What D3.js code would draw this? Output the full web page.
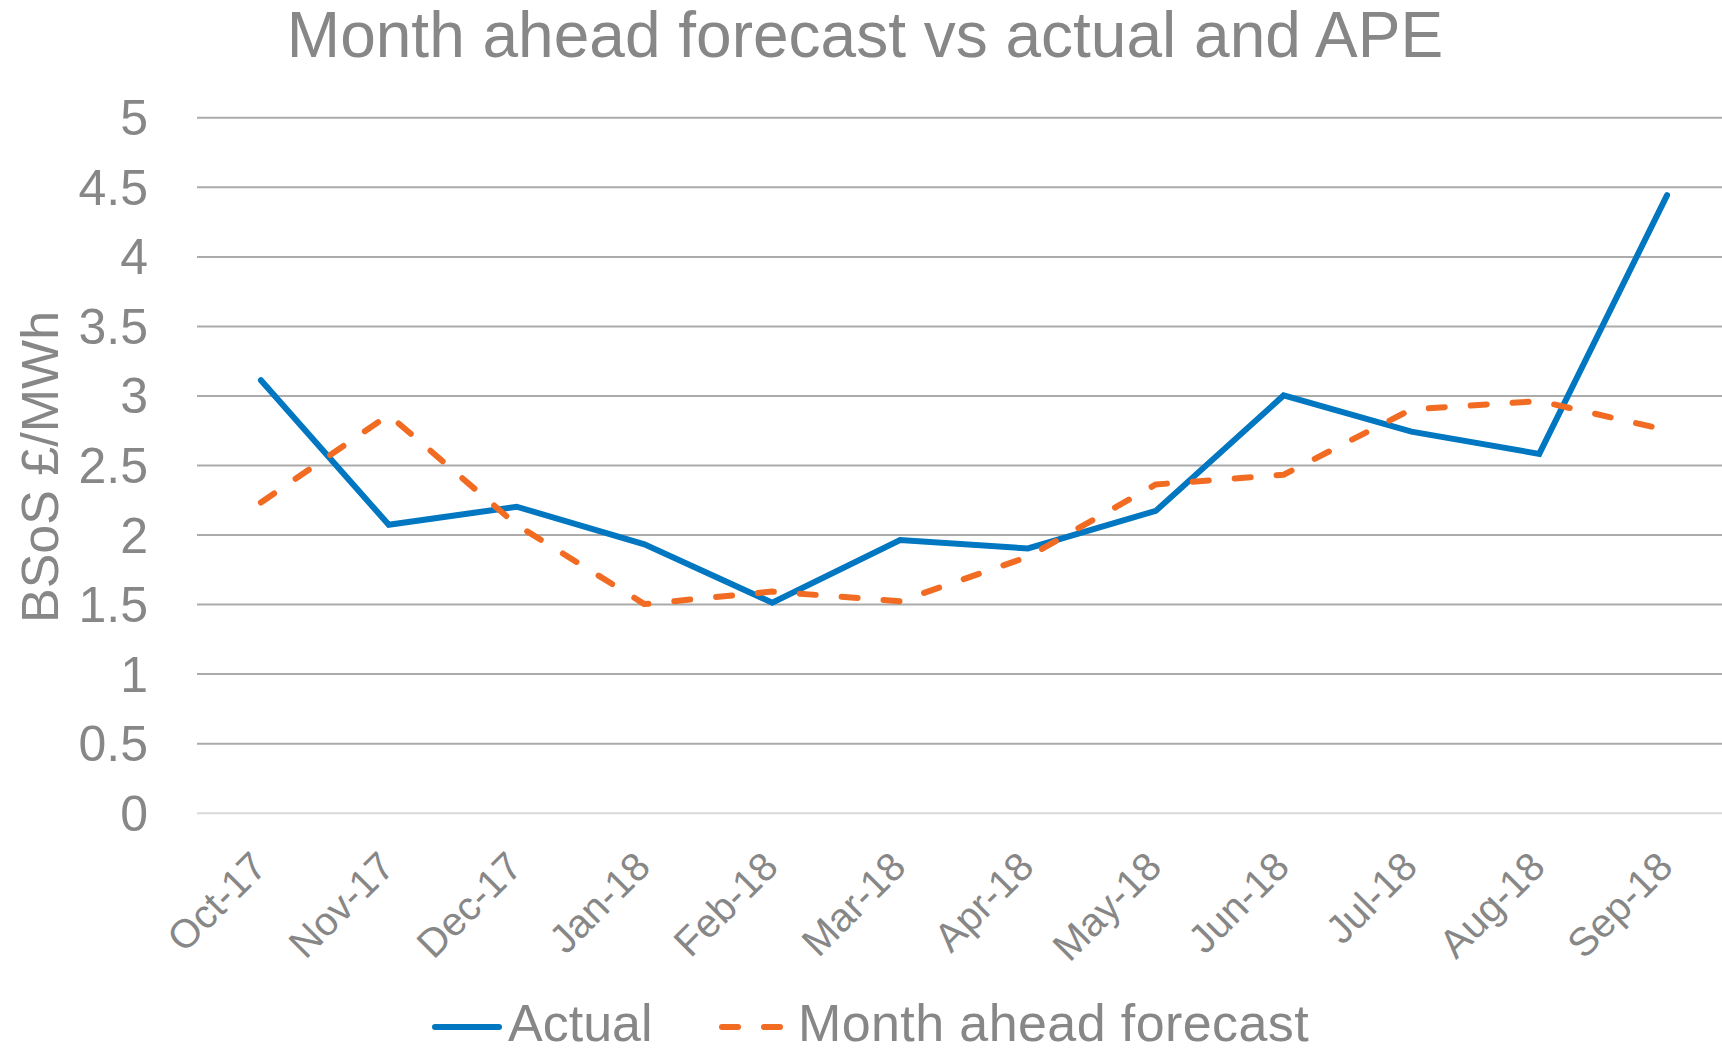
<!DOCTYPE html>
<html>
<head>
<meta charset="utf-8">
<script src="https://cdn.jsdelivr.net/npm/d3@7"></script>
<style>
	body { margin: 0; background: #fff; }
	svg { display: block; font-family: "Liberation Sans", Arial, sans-serif; }
	.txt { fill: #878787; }
</style>
</head>
<body>
<svg id="chart" width="1722" height="1052"></svg>
<script>
"use strict";

// chart data
var months = ["Oct-17", "Nov-17", "Dec-17", "Jan-18", "Feb-18", "Mar-18",
	"Apr-18", "May-18", "Jun-18", "Jul-18", "Aug-18", "Sep-18"];
var actual = [3.11, 2.07, 2.20, 1.93, 1.51, 1.96, 1.90, 2.17, 3.00, 2.74, 2.58, 4.44];
var forecast = [2.23, 2.86, 2.07, 1.50, 1.59, 1.52, 1.84, 2.36, 2.43, 2.90, 2.96, 2.75];
var yTicks = [0, 0.5, 1, 1.5, 2, 2.5, 3, 3.5, 4, 4.5, 5];
var yTickLabels = ["0", "0.5", "1", "1.5", "2", "2.5", "3", "3.5", "4", "4.5", "5"];

var svg = d3.select('#chart');

var plotLeft = 197, plotRight = 1731, plotTop = 117.3, plotBottom = 812.7;

var x = d3.scalePoint().domain(months).range([plotLeft, plotRight]).padding(0.5);
var y = d3.scaleLinear().domain([0, 5]).range([plotBottom, plotTop]);

// title
svg.append('text').attr('class', 'txt').attr('x', 865).attr('y', 57)
	.style('font-size', '64px').style('text-anchor', 'middle')
	.text('Month ahead forecast vs actual and APE');

// y axis with gridlines
var yAxis = svg.append('g').attr('transform', 'translate(' + plotLeft + ',0)')
	.call(d3.axisLeft(y).tickValues(yTicks)
		.tickFormat(function(d, i) { return yTickLabels[i]; })
		.tickSize(-(plotRight - plotLeft)).tickPadding(49));
yAxis.select('.domain').remove();
yAxis.selectAll('.tick line')
	.attr('stroke', function(d) { return d === 0 ? '#d9d9d9' : '#ababab'; })
	.attr('stroke-width', 2);
yAxis.selectAll('.tick text').attr('class', 'txt')
	.style('font-size', '50px').attr('dy', '0.35em');

// y axis title
svg.append('text').attr('class', 'txt')
	.attr('transform', 'translate(58, 467) rotate(-90)')
	.style('font-size', '52px').style('text-anchor', 'middle')
	.text('BSoS £/MWh');

// x labels, rotated
var xAxis = svg.append('g');
xAxis.selectAll('text').data(months).enter().append('text')
	.attr('class', 'txt')
	.attr('transform', function(d) { return 'translate(' + (x(d) + 8) + ', 869) rotate(-45)'; })
	.style('font-size', '40px').style('text-anchor', 'end')
	.text(function(d) { return d; });

// lines
var line = function(vals) {
	return d3.line().x(function(d, i) { return x(months[i]); })
		.y(function(d) { return y(d); })(vals);
};

svg.append('path').attr('d', line(actual))
	.attr('fill', 'none').attr('stroke', '#0077c0').attr('stroke-width', 6)
	.attr('stroke-linecap', 'round').attr('stroke-linejoin', 'miter');

svg.append('path').attr('d', line(forecast))
	.attr('fill', 'none').attr('stroke', '#f26b22').attr('stroke-width', 6)
	.attr('stroke-dasharray', '16,26')
	.attr('stroke-linecap', 'round').attr('stroke-linejoin', 'round');

// legend
var legend = svg.append('g');
legend.append('line').attr('x1', 435).attr('x2', 499).attr('y1', 1027).attr('y2', 1027)
	.attr('stroke', '#0077c0').attr('stroke-width', 6).attr('stroke-linecap', 'round');
legend.append('text').attr('class', 'txt').attr('x', 508).attr('y', 1041)
	.style('font-size', '52px').text('Actual');
legend.append('line').attr('x1', 722).attr('x2', 781).attr('y1', 1027).attr('y2', 1027)
	.attr('stroke', '#f26b22').attr('stroke-width', 6).attr('stroke-linecap', 'round')
	.attr('stroke-dasharray', '16,26');
legend.append('text').attr('class', 'txt').attr('x', 798).attr('y', 1041)
	.style('font-size', '52px').style('letter-spacing', '0.4px').text('Month ahead forecast');
</script>
</body>
</html>
